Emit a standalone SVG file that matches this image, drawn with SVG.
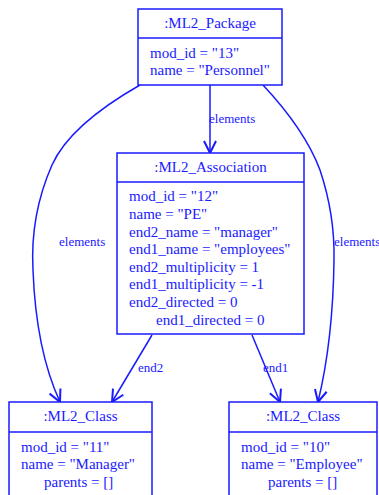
<svg xmlns="http://www.w3.org/2000/svg" width="379" height="495" viewBox="0 0 379 495">
  <style>
    .box { fill: #ffffff; stroke: #1a1aff; stroke-width: 1.5; }
    .sep { stroke: #1a1aff; stroke-width: 1.5; }
    .txt { font-family: "Liberation Serif", "Times New Roman", serif; font-size: 15px; fill: #1a1aff; }
    .title { text-anchor: middle; }
    .lbl { font-family: "Liberation Serif", "Times New Roman", serif; font-size: 13px; fill: #1a1aff; }
    .edge { fill: none; stroke: #1a1aff; stroke-width: 1.5; }
  </style>
  <defs>
    <marker id="open" markerUnits="userSpaceOnUse" markerWidth="20" markerHeight="20" refX="0" refY="0" viewBox="-14 -10 16 20" orient="auto">
      <path d="M-12,-6 L0,0 L-12,6" fill="none" stroke="#1a1aff" stroke-width="2"/>
    </marker>
  </defs>

  <!-- connectors -->
  <g id="connectors">
    <path class="edge" d="M210,85 L210,153" marker-end="url(#open)"/>
    <text class="lbl" x="209" y="123">elements</text>

    <path class="edge" d="M140,85 Q70,125 52,165 Q30,215 33,270 Q36,350 60,402" marker-end="url(#open)"/>
    <text class="lbl" x="59" y="246">elements</text>

    <path class="edge" d="M263,85 Q305,130 320,170 Q335,215 334,260 Q333,340 318,402" marker-end="url(#open)"/>
    <text class="lbl" x="334" y="246">elements</text>

    <path class="edge" d="M152,335 L112,402" marker-end="url(#open)"/>
    <text class="lbl" x="138" y="372">end2</text>

    <path class="edge" d="M252,335 L280,402" marker-end="url(#open)"/>
    <text class="lbl" x="263" y="372">end1</text>
  </g>

  <!-- package node -->
  <g id="package">
    <rect class="box" x="138" y="9" width="144" height="76"/>
    <line class="sep" x1="138" y1="38" x2="282" y2="38"/>
    <text class="txt title" x="210" y="28">:ML2_Package</text>
    <text class="txt" x="150" y="58">mod_id = "13"</text>
    <text class="txt" x="150" y="75">name = "Personnel"</text>
  </g>

  <!-- association node -->
  <g id="association">
    <rect class="box" x="117" y="153" width="187" height="181"/>
    <line class="sep" x1="117" y1="182" x2="304" y2="182"/>
    <text class="txt title" x="210.5" y="172">:ML2_Association</text>
    <text class="txt" x="129" y="201">mod_id = "12"</text>
    <text class="txt" x="129" y="219">name = "PE"</text>
    <text class="txt" x="129" y="237">end2_name = "manager"</text>
    <text class="txt" x="129" y="254">end1_name = "employees"</text>
    <text class="txt" x="129" y="272">end2_multiplicity = 1</text>
    <text class="txt" x="129" y="289">end1_multiplicity = -1</text>
    <text class="txt" x="129" y="307">end2_directed = 0</text>
    <text class="txt" x="156" y="325">end1_directed = 0</text>
  </g>

  <!-- manager class node -->
  <g id="class-manager">
    <rect class="box" x="9" y="402" width="143" height="110"/>
    <line class="sep" x1="9" y1="432" x2="152" y2="432"/>
    <text class="txt title" x="80.5" y="421">:ML2_Class</text>
    <text class="txt" x="21" y="452">mod_id = "11"</text>
    <text class="txt" x="21" y="469">name = "Manager"</text>
    <text class="txt" x="44" y="487">parents = []</text>
  </g>

  <!-- employee class node -->
  <g id="class-employee">
    <rect class="box" x="229" y="402" width="148" height="110"/>
    <line class="sep" x1="229" y1="432" x2="377" y2="432"/>
    <text class="txt title" x="303" y="421">:ML2_Class</text>
    <text class="txt" x="241" y="452">mod_id = "10"</text>
    <text class="txt" x="241" y="469">name = "Employee"</text>
    <text class="txt" x="268" y="487">parents = []</text>
  </g>
</svg>
